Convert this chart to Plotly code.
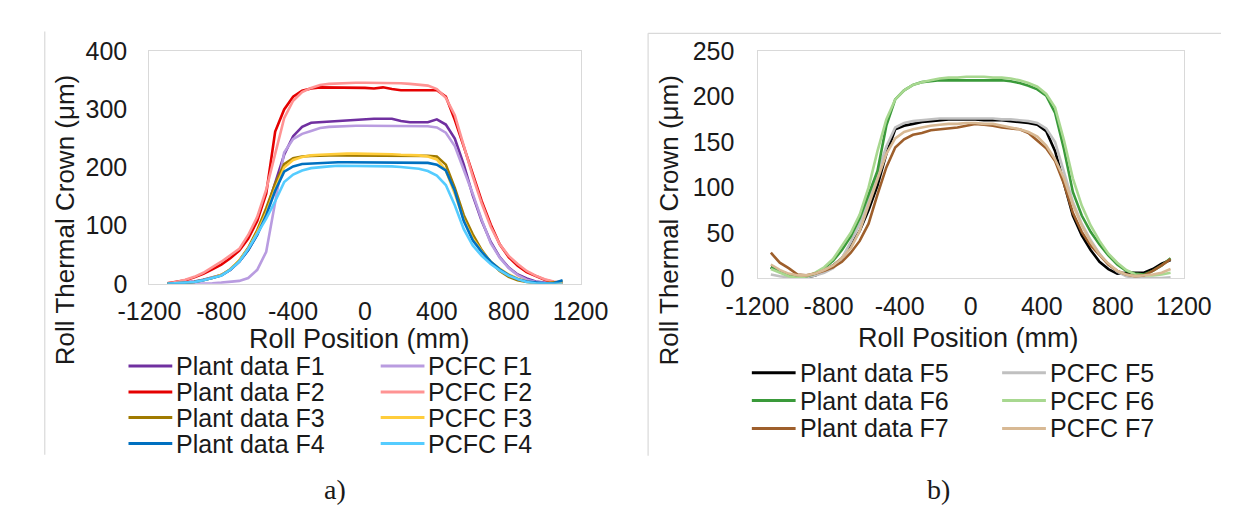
import plotly.graph_objects as go

# ---------------- data: chart a) ----------------
XA = [-1100, -1050, -1000, -950, -900, -850, -800, -750, -700, -650, -600, -550, -500, -450, -400, -350,
      -300, -250, -200, -150, -100, -50, 0, 50, 100, 150, 200, 250, 300, 350, 400, 450, 500, 550, 600,
      650, 700, 750, 800, 850, 900, 950, 1000, 1050, 1100]

plant_f1 = [0, 1, 2, 4, 7, 11, 15, 24, 38, 58, 85, 125, 173, 222, 254, 270, 277, 278, 279, 280, 281, 283,
            284, 284, 284, 284, 280, 278, 278, 278, 283, 274, 250, 205, 152, 108, 72, 46, 28, 16, 9, 4, 2, 1, 0]
pcfc_f1 = [0, 0, 0, 0, 0, 1, 2, 3, 5, 10, 24, 55, 140, 226, 249, 258, 263, 268, 270, 271, 272, 272,
           272, 272, 272, 272, 272, 272, 272, 271, 269, 260, 237, 197, 155, 110, 70, 45, 27, 15, 7, 3, 1, 0, 0]
plant_f2 = [1, 3, 6, 11, 17, 25, 33, 44, 57, 78, 108, 155, 262, 300, 322, 332, 336, 338, 338, 338, 338, 338,
            337, 336, 338, 335, 333, 333, 333, 334, 333, 322, 282, 236, 188, 142, 102, 68, 46, 31, 20, 13, 7, 3, 1]
pcfc_f2 = [1, 3, 7, 12, 19, 28, 38, 49, 60, 84, 115, 162, 226, 285, 315, 330, 337, 342, 344, 345, 346, 346,
           346, 346, 346, 346, 345, 344, 343, 341, 335, 320, 290, 238, 185, 138, 98, 68, 48, 34, 22, 14, 8, 4, 1]
plant_f3 = [0, 0, 1, 3, 6, 10, 15, 25, 40, 62, 92, 130, 172, 206, 216, 219, 220, 221, 221, 221, 221, 221,
            221, 221, 221, 221, 221, 221, 220, 220, 219, 205, 165, 118, 85, 58, 37, 22, 12, 6, 3, 1, 1, 2, 4]
pcfc_f3 = [0, 1, 2, 3, 6, 10, 15, 25, 40, 60, 88, 122, 163, 200, 213, 218, 221, 222, 223, 223, 224, 224,
           224, 224, 223, 223, 222, 222, 221, 219, 214, 195, 155, 110, 78, 56, 38, 26, 16, 9, 4, 1, 0, 0, 0]
plant_f4 = [0, 1, 2, 3, 6, 10, 14, 24, 38, 58, 84, 118, 160, 193, 202, 206, 207, 208, 208, 209, 209, 209,
            209, 209, 209, 208, 208, 208, 208, 208, 205, 195, 160, 108, 75, 55, 38, 25, 15, 8, 4, 2, 1, 1, 6]
pcfc_f4 = [0, 1, 2, 3, 6, 10, 14, 24, 38, 60, 86, 112, 142, 175, 188, 195, 199, 201, 202, 203, 203, 203,
           203, 203, 203, 202, 201, 200, 198, 194, 186, 170, 135, 94, 66, 48, 34, 23, 14, 8, 3, 1, 0, 0, 0]

# ---------------- data: chart b) ----------------
XB = [-1125, -1075, -1025, -975, -925, -875, -825, -775, -725, -675, -625, -575, -525, -475, -425, -375,
      -325, -275, -225, -175, -125, -75, -25, 25, 75, 125, 175, 225, 275, 325, 375, 425, 475, 525, 575,
      625, 675, 725, 775, 825, 875, 925, 975, 1025, 1075, 1125]

plant_f5 = [12, 7, 3, 1, 1, 3, 8, 14, 22, 36, 52, 75, 102, 137, 164, 168, 170, 172, 173, 174, 175, 175,
            175, 175, 174, 174, 174, 173, 172, 171, 169, 162, 140, 103, 69, 47, 31, 18, 10, 5, 6, 6, 6, 10, 16, 20]
pcfc_f5 = [4, 2, 1, 0, 1, 3, 6, 11, 22, 40, 60, 86, 116, 145, 166, 171, 173, 174, 175, 176, 176, 176,
           176, 176, 176, 176, 175, 175, 174, 173, 171, 165, 150, 117, 84, 60, 42, 27, 15, 7, 2, 0, 0, 0, 0, 1]
plant_f6 = [12, 7, 3, 1, 2, 5, 11, 19, 31, 46, 66, 92, 118, 168, 197, 207, 213, 216, 217, 218, 218, 218,
            218, 218, 218, 218, 218, 217, 215, 212, 208, 201, 182, 142, 95, 69, 51, 37, 25, 15, 8, 5, 4, 8, 14, 22]
pcfc_f6 = [10, 6, 2, 0, 2, 6, 12, 21, 35, 50, 70, 100, 140, 175, 197, 207, 213, 216, 218, 220, 221, 221,
           222, 222, 222, 221, 221, 220, 218, 215, 211, 203, 188, 152, 110, 80, 58, 41, 27, 17, 9, 4, 3, 3, 4, 6]
plant_f7 = [28, 17, 11, 4, 3, 5, 8, 12, 18, 28, 41, 60, 92, 122, 144, 153, 158, 160, 163, 164, 165, 166,
            168, 170, 169, 168, 166, 165, 164, 160, 152, 143, 129, 104, 72, 51, 36, 25, 15, 8, 4, 2, 3, 8, 14, 21]
pcfc_f7 = [15, 9, 5, 3, 3, 5, 9, 14, 22, 33, 52, 80, 108, 137, 154, 161, 164, 166, 168, 169, 170, 170,
           171, 171, 170, 170, 168, 166, 164, 161, 156, 146, 131, 110, 81, 58, 40, 26, 16, 8, 4, 2, 3, 4, 6, 10]

NAMES_A = ["Plant data F1", "PCFC F1", "Plant data F2", "PCFC F2",
           "Plant data F3", "PCFC F3", "Plant data F4", "PCFC F4"]
NAMES_B = ["Plant data F5", "PCFC F5", "Plant data F6", "PCFC F6", "Plant data F7", "PCFC F7"]
SERIES_A = [plant_f1, pcfc_f1, plant_f2, pcfc_f2, plant_f3, pcfc_f3, plant_f4, pcfc_f4]
SERIES_B = [plant_f5, pcfc_f5, plant_f6, pcfc_f6, plant_f7, pcfc_f7]

X_TICKS = [-1200, -800, -400, 0, 400, 800, 1200]
X_TICK_TEXT = ["-1200", "-800", "-400", "0", "400", "800", "1200"]
Y_TICKS_A = [0, 100, 200, 300, 400]
Y_TICKS_B = [0, 50, 100, 150, 200, 250]

COLORS_A = ["#7030A0", "#B99CE0", "#E50000", "#FF9393", "#A07A00", "#FFCD3C", "#0070C0", "#55CCFF"]
COLORS_B = ["#000000", "#C0C0C0", "#3A9A3A", "#A8D890", "#9E5F2C", "#D8B994"]

# ---------------- layout helpers ----------------
W, H = 1241, 510
def px(x):
    return x / W
def py(y):
    return 1 - y / H

FONT = "Liberation Sans, Arial, sans-serif"
TXT = "#1a1a1a"
LW = 2.6

fig = go.Figure()
for name, ys, c in zip(NAMES_A, SERIES_A, COLORS_A):
    fig.add_trace(go.Scatter(x=XA, y=ys, mode="lines", name=name, line=dict(color=c, width=LW),
                             xaxis="x", yaxis="y", showlegend=False))
for name, ys, c in zip(NAMES_B, SERIES_B, COLORS_B):
    fig.add_trace(go.Scatter(x=XB, y=ys, mode="lines", name=name, line=dict(color=c, width=LW),
                             xaxis="x2", yaxis="y2", showlegend=False))

axis_common = dict(showgrid=False, zeroline=False, showline=True, mirror=True, linecolor="#D9D9D9",
                   linewidth=1.3, ticks="", tickfont=dict(family=FONT, size=25, color=TXT))

fig.update_layout(
    width=W, height=H, margin=dict(l=0, r=0, t=0, b=0),
    paper_bgcolor="white", plot_bgcolor="white", showlegend=False,
    xaxis=dict(domain=[px(115), px(568)], range=[-1200, 1200], tickvals=X_TICKS, ticktext=X_TICK_TEXT,
               ticklabelstandoff=5, anchor="y", **axis_common),
    yaxis=dict(domain=[py(277), py(31)], range=[0, 400], tickvals=Y_TICKS_A,
               ticklabelstandoff=16, anchor="x", **axis_common),
    xaxis2=dict(domain=[px(754), px(1202)], range=[-1200, 1200], tickvals=X_TICKS, ticktext=X_TICK_TEXT,
                ticklabelstandoff=6, anchor="y2", **axis_common),
    yaxis2=dict(domain=[py(271), py(31)], range=[0, 250], tickvals=Y_TICKS_B,
                ticklabelstandoff=17, anchor="x2", **axis_common),
)

shapes = []
ann = []
FRAME = "#D9D9D9"
shapes.append(dict(type="line", xref="paper", yref="paper", x0=px(5), x1=px(5), y0=py(10), y1=py(458),
                   line=dict(color=FRAME, width=1.2)))
shapes.append(dict(type="line", xref="paper", yref="paper", x0=px(639), x1=px(639), y0=py(12), y1=py(459),
                   line=dict(color=FRAME, width=1.2)))
shapes.append(dict(type="line", xref="paper", yref="paper", x0=px(639), x1=px(1241), y0=py(12), y1=py(12),
                   line=dict(color=FRAME, width=1.2)))

def text(x, y, s, size=27, angle=0, family=FONT, anchor="center"):
    ann.append(dict(x=px(x), y=py(y), xref="paper", yref="paper", text=s, showarrow=False,
                    xanchor=anchor, yanchor="middle", textangle=angle,
                    font=dict(family=family, size=size, color=TXT)))

text(336, 335, "Roll Position (mm)")
text(976, 334, "Roll Position (mm)")
text(27, 210, "Roll Thermal Crown (μm)", size=26, angle=-90)
text(661, 210, "Roll Thermal Crown (μm)", size=26, angle=-90)
text(310, 495, "a)", size=28, family="Liberation Serif, Times New Roman, serif")
text(944, 495, "b)", size=28, family="Liberation Serif, Times New Roman, serif")

def legend(names, colors, cols_x, rows_y):
    for i, (n, c) in enumerate(zip(names, colors)):
        r, k = divmod(i, 2)
        x0, x1, xt = cols_x[k]
        y = rows_y[r]
        shapes.append(dict(type="line", xref="paper", yref="paper", x0=px(x0), x1=px(x1),
                           y0=py(y), y1=py(y), line=dict(color=c, width=3)))
        text(xt, y, n, size=25, anchor="left")

legend(NAMES_A, COLORS_A, [(93, 139, 141), (358, 404, 406)], [364, 391.5, 418.5, 446])
legend(NAMES_B, COLORS_B, [(748, 794, 796), (1011, 1057, 1059)], [371, 400.5, 430])

fig.update_layout(shapes=shapes, annotations=ann)
fig.write_html("out.html")
